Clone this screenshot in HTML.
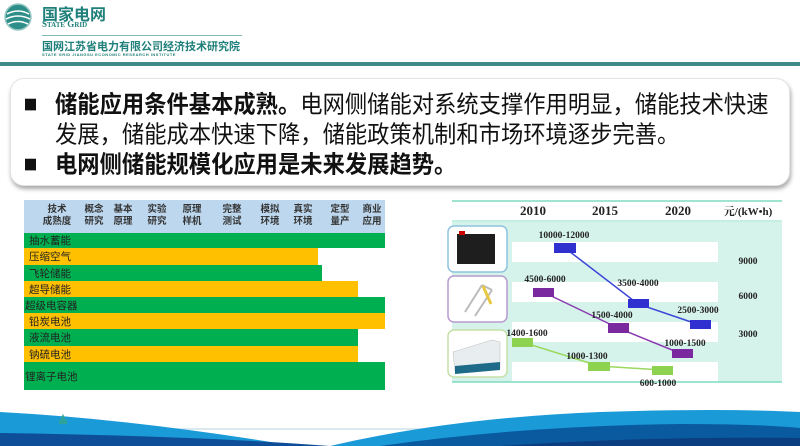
<!DOCTYPE html>
<html><head><meta charset="utf-8"><style>
*{margin:0;padding:0;box-sizing:border-box}
body{width:800px;height:446px;overflow:hidden;background:#fff;position:relative;font-family:"Liberation Sans","Noto Sans CJK SC",sans-serif}
.a{position:absolute}
.box{left:10px;top:78px;width:780px;height:108px;border-radius:14px;background:#fff;box-shadow:1px 3px 4px rgba(0,0,0,0.35);border:1px solid #e4e4e4}
.ln{position:absolute;left:14px;font-size:22.3px;color:#111;white-space:nowrap;letter-spacing:0;transform:scaleY(1.06);transform-origin:left top}
.bl{display:inline-block;width:11px;height:11px;background:#111;margin-right:19px;vertical-align:2px}
.tb{left:24px;top:200px;width:361px;height:190px}
.hd{position:absolute;top:0;height:33px;width:100%;background:#bdd7ee}
.hc{position:absolute;top:4px;font-size:9.5px;font-weight:bold;line-height:12px;text-align:center;color:#333;transform:translateX(-50%);white-space:nowrap}
.row{position:absolute;left:0;font-size:10.5px;color:#222;padding-left:5px;display:flex;align-items:center}
.g{background:#00b050}.o{background:#ffc000}
</style></head><body>
<svg class="a" style="left:2px;top:2px" width="34" height="30"><circle cx="16" cy="15" r="13" fill="#2e8f8a"/><path d="M5 12 Q16 6 27 12 M4 17 Q16 11 28 17 M6 22 Q16 17 26 22" stroke="#fff" stroke-width="1.6" fill="none"/><circle cx="16" cy="15" r="13" fill="none" stroke="#9bc9c5" stroke-width="1.5"/></svg>
<div class="a" style="left:42px;top:1px;font-size:16px;font-weight:bold;color:#1f7f7a">国家电网</div>
<div class="a" style="left:42px;top:19px;font-size:9px;font-weight:bold;color:#1f7f7a;font-family:'Liberation Serif',serif">S<span style="font-size:7px">TATE</span> G<span style="font-size:7px">RID</span></div>
<div class="a" style="left:42px;top:35px;width:200px;height:1px;background:#7fb8b4"></div>
<div class="a" style="left:42px;top:38px;font-size:11px;font-weight:bold;color:#1f7f7a">国网江苏省电力有限公司经济技术研究院</div>
<div class="a" style="left:42px;top:52px;font-size:4px;font-weight:bold;color:#1f7f7a;letter-spacing:0.5px">STATE GRID JIANGSU ECONOMIC RESEARCH INSTITUTE</div>
<div class="a" style="left:0;top:62px;width:800px;height:4px;background:#3d8a88"></div>
<div class="a box">
<div class="ln" style="top:7px"><span class="bl"></span><b>储能应用条件基本成熟。</b>电网侧储能对系统支撑作用明显，储能技术快速</div>
<div class="ln" style="top:37px;left:44px">发展，储能成本快速下降，储能政策机制和市场环境逐步完善。</div>
<div class="ln" style="top:67px"><span class="bl"></span><b>电网侧储能规模化应用是未来发展趋势。</b></div>
</div>
<div class="a tb">
<div class="hd"></div>
<div class="hc" style="left:33px">技术<br>成熟度</div>
<div class="hc" style="left:70px">概念<br>研究</div>
<div class="hc" style="left:99px">基本<br>原理</div>
<div class="hc" style="left:133px">实验<br>研究</div>
<div class="hc" style="left:168px">原理<br>样机</div>
<div class="hc" style="left:208px">完整<br>测试</div>
<div class="hc" style="left:246px">模拟<br>环境</div>
<div class="hc" style="left:279px">真实<br>环境</div>
<div class="hc" style="left:316px">定型<br>量产</div>
<div class="hc" style="left:348px">商业<br>应用</div>
<div class="row g" style="top:33px;height:15px;width:361px">抽水蓄能</div>
<div class="row o" style="top:48px;height:17px;width:294px">压缩空气</div>
<div class="row g" style="top:65px;height:16px;width:298px">飞轮储能</div>
<div class="row o" style="top:81px;height:16px;width:334px">超导储能</div>
<div class="row g" style="top:97px;height:16px;width:361px;padding-left:1px">超级电容器</div>
<div class="row o" style="top:113px;height:16px;width:361px">铅炭电池</div>
<div class="row g" style="top:129px;height:17px;width:334px">液流电池</div>
<div class="row o" style="top:146px;height:16px;width:334px">钠硫电池</div>
<div class="row g" style="top:162px;height:28px;width:361px;padding-left:1px">锂离子电池</div>
</div>
<svg class="a" style="left:0;top:0" width="800" height="446" font-family="Liberation Serif,serif" font-weight="bold">
<rect x="452" y="221" width="330" height="161" fill="#d5f3ea"/>
<g fill="#fff"><rect x="512" y="242" width="206" height="20"/><rect x="512" y="282" width="206" height="20"/><rect x="512" y="322" width="206" height="20"/><rect x="512" y="362" width="206" height="20"/></g>
<line x1="452" y1="201" x2="782" y2="201" stroke="#7fdcc0" stroke-width="1.5"/>
<line x1="452" y1="221" x2="782" y2="221" stroke="#c5efe3" stroke-width="2"/>
<line x1="452" y1="382" x2="782" y2="382" stroke="#7fdcc0" stroke-width="1.5"/>
<g font-size="13" fill="#222" text-anchor="middle"><text x="533" y="215">2010</text><text x="605" y="215">2015</text><text x="678" y="215">2020</text></g>
<text x="748" y="215" font-size="11" text-anchor="middle" fill="#222" font-family="Liberation Serif,Noto Serif CJK SC,serif">元/(kW•h)</text>
<g font-size="9.5" fill="#222" text-anchor="middle"><text x="748" y="264">9000</text><text x="748" y="299">6000</text><text x="748" y="337">3000</text></g>
<rect x="448" y="226" width="59" height="46" rx="6" fill="#fff" stroke="#8ec3e0" stroke-width="1.5"/>
<rect x="457" y="234" width="38" height="30" fill="#1e1e1e"/><rect x="459" y="231" width="6" height="4" fill="#c00"/>
<rect x="448" y="276" width="59" height="46" rx="6" fill="#fff" stroke="#b89ad0" stroke-width="1.5"/>
<path d="M465 312 L482 285 M475 316 L492 290 M482 285 L492 290" stroke="#bbb" stroke-width="2" fill="none"/><path d="M483 286 L491 304" stroke="#e8c840" stroke-width="3"/>
<rect x="448" y="330" width="59" height="47" rx="6" fill="#fff" stroke="#c6e0a8" stroke-width="1.5"/>
<path d="M453 352 L492 340 L500 342 L500 368 L455 372 Z" fill="#e8eef0" stroke="#bbb" stroke-width="0.5"/><path d="M455 366 L500 362 L500 370 L455 374 Z" fill="#1d6b88"/>
<g stroke-width="1.5"><polyline points="565,248 638,304 700,325" stroke="#3a45d8" fill="none"/><polyline points="543,292 618,328 682,354" stroke="#8a3ab0" fill="none"/><polyline points="522,342 599,366 662,370" stroke="#9ad860" fill="none"/></g>
<g fill="#3030d0"><rect x="554" y="243" width="22" height="10"/><rect x="628" y="299" width="21" height="9"/><rect x="690" y="320" width="21" height="9"/></g>
<g fill="#7a2a9e"><rect x="533" y="288" width="21" height="9"/><rect x="608" y="323" width="21" height="10"/><rect x="672" y="349" width="21" height="9"/></g>
<g fill="#8ed350"><rect x="512" y="338" width="21" height="9"/><rect x="588" y="362" width="22" height="9"/><rect x="652" y="366" width="21" height="9"/></g>
<g font-size="9.5" fill="#222" text-anchor="middle"><text x="564" y="238">10000-12000</text><text x="638" y="286">3500-4000</text><text x="698" y="313">2500-3000</text><text x="545" y="282">4500-6000</text><text x="612" y="318">1500-4000</text><text x="685" y="346">1000-1500</text><text x="527" y="336">1400-1600</text><text x="587" y="359">1000-1300</text><text x="658" y="386">600-1000</text></g>
<line x1="60" y1="429" x2="780" y2="429" stroke="#cde3e8" stroke-width="1.5"/>
<path d="M0 412 Q150 420 330 452 L0 446 Z" fill="#1b9ad8"/>
<path d="M0 433 Q200 436 330 446 L0 446 Z" fill="#0e4e98"/>
<path d="M330 446 Q450 418 600 412 Q720 408 800 412 L800 446 Z" fill="#1b9ad8"/>
<path d="M380 446 Q520 426 680 424 Q760 424 800 428 L800 446 Z" fill="#0a5aa0"/>
<path d="M500 446 Q650 436 800 438 L800 446 Z" fill="#0a3e80"/>
<path d="M60 420 l3 -6 l3 6 Z M59 420 h8 v4 h-8 Z" fill="#2ea39c"/>
</svg>
</body></html>
